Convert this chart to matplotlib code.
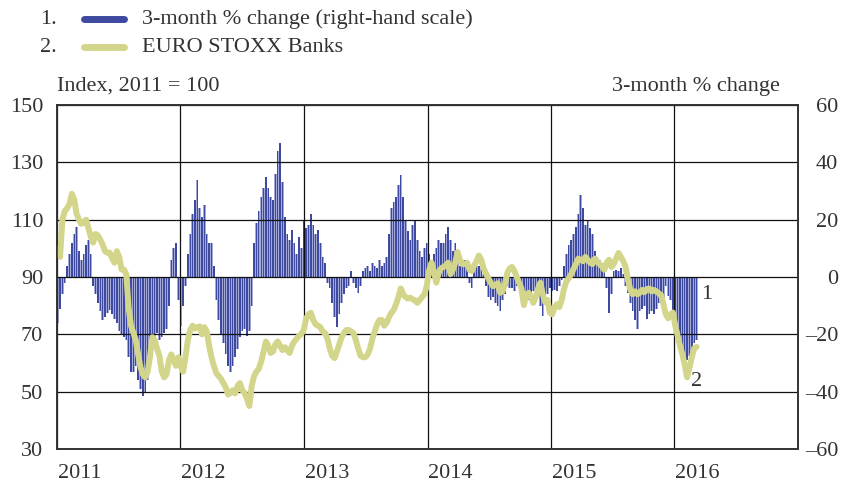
import numpy as np
import pandas as pd
import matplotlib
matplotlib.use('Agg')  # headless backend
import matplotlib.pyplot as plt
from matplotlib.lines import Line2D

plt.rcParams['font.family'] = ['Liberation Serif', 'DejaVu Serif']

# weekly readings, first week starting 3 Jan 2011
# EURO STOXX Banks, index 2011 = 100 (left-hand scale)
index_vals = [
    # 2011
    100, 97, 110, 113, 114, 115.5, 119, 117, 112, 110, 108.5, 109, 110, 107, 104, 102,
    105, 104.5, 103, 101.3, 99, 98.5, 98.5, 96.5, 95, 99, 97, 92.6, 92.6, 91, 79, 73,
    70.5, 68, 63, 58.5, 56, 55, 57, 62, 69, 68, 65, 62.5, 57, 55, 56, 61, 63, 61, 59, 62,
    # 2012
    59, 57, 62, 68, 71.5, 73, 72, 72.5, 72.8, 70, 72.5, 71, 66, 62, 59, 56.5, 55.5, 54.5,
    53, 51.5, 49, 49.5, 50.5, 49.4, 52, 53, 50.5, 49.5, 47.5, 45, 52, 55.5, 57, 58, 60.5,
    64, 67.5, 66, 63.5, 64, 66.5, 67.5, 66, 64.5, 65.5, 64.5, 63.5, 66, 67.5, 68.5, 69.5,
    70.2, 71.5,
    # 2013
    75.5, 77, 77.5, 75, 73.5, 73, 72.5, 71, 70.5, 68.5, 65, 62.5, 61.7, 64, 66.5, 69, 70.5,
    71.5, 71.5, 71, 70.5, 68, 65, 62.5, 62, 62, 63, 65, 68.5, 71, 73.5, 75, 75, 73, 74, 76,
    77.5, 78.5, 80.5, 83, 86, 84, 83, 82.5, 82.8, 82.2, 81.8, 81, 82, 83, 84, 87,
    # 2014
    92.4, 95, 92, 88, 91.5, 93, 93.5, 94, 95, 91, 92.5, 95, 98.7, 96, 94.5, 94.5, 95, 92.5,
    92, 94, 95.5, 97.5, 96, 93, 91.2, 89.5, 88, 86.8, 87.2, 87.8, 84.5, 85, 87.5, 91.4, 93,
    93.5, 92.2, 90, 88, 86, 80.2, 83.5, 84.5, 83, 81, 83, 86, 88, 84, 81.2, 82, 77.5,
    # 2015 - early 2016
    77, 79.5, 80.5, 79.5, 82, 86, 88.5, 89.6, 91, 92.8, 94.5, 96.4, 96, 95.5, 97, 96, 95,
    94.5, 96.4, 95.5, 94.5, 93.7, 92.5, 95, 96, 93.5, 94.5, 96.5, 98.4, 97, 95.5, 93.5, 89,
    85.5, 84, 85, 84, 84.5, 85.5, 84.7, 85.8, 86, 85, 85.5, 85, 84.3, 83.7, 80.5, 77, 75.6,
    77, 77.6, 73, 69.5, 66, 63, 59.3, 55, 58.5, 62, 65.2, 65.6,
]

# 3-month % change (right-hand scale)
change_vals = [
    -16, -11, -6, -2, 4, 8, 12, 15, 17.5, 9, 6, 8, 11, 13, 8,
    -3, -6, -9, -12, -15, -14, -12.5, -11.5, -13, -14.5, -16, -19, -20, -21,
    -22, -28, -33, -33, -31, -36, -39, -41.5, -40, -36, -30, -25, -21, -19.5, -22, -21,
    -19.5, -18, -10,
    6, 10, 12, -8, -17, -10, -3,
    8, 15, 22, 27, 34, 24, 21, 25, 15, 12, 12, 4,
    -8, -15, -20, -23, -27, -31, -33, -31, -28, -25, -21, -19, -18, -20.5, -19, -10,
    12, 19, 23, 28, 31, 35, 31, 28, 27, 36, 44, 46.6, 33, 21, 15, 13, 16.5, 12, 8, 14, 10, 20,
    17, 18, 22, 18, 15, 16.5, 12, 7, 5,
    -2, -4, -9, -14, -17.4, -13, -9, -6, -4, -3,
    2, -2, -4, -5.5, -3, 2, 3, 4, 2, 5, 4, 3, 6, 4, 5,
    7, 15, 24, 26, 28, 32, 35.6, 28, 20, 16, 13, 18, 20, 13, 9, 7, 10, 12,
    8, 6, 8, 10, 13, 12, 12, 15, 17.5, 13, 9, 12, 8, 4, 5, 6, 4,
    -2, -4, 3, 4, 4, 3, 1,
    -3, -7, -8, -7, -9, -10, -12, -8, -6, -3, -4, -4, -5, -3, -2, -3.5, -5, -6, -8, -6,
    -5, -5.5, -6.5, -10, -13.7, -9, -6, -4, -5, -4.5, -5, -3, -1,
    4, 8, 11, 13, 15, 17.6, 22, 28.6, 24, 18, 19.4, 17, 15, 9, 7, 6, 5, 4, -4, -12.5, -6,
    2, 2.5, 2, 3, 1,
    -3, -5.6, -9, -12, -15, -18, -12, -11, -10, -14.8, -13, -12, -13, -11, -9, -7, -8, -3,
    -6.7, -8, -11.4, -16, -23, -26, -27, -28.7, -29, -27.5, -25, -23, -22,
]

years = [2011, 2012, 2013, 2014, 2015, 2016]
left_ticks = [30, 50, 70, 90, 110, 130, 150]
right_ticks = [-60, -40, -20, 0, 20, 40, 60]

dates = pd.date_range('2011-01-03', periods=len(index_vals), freq='7D')

BLUE = '#3d4a9f'
BLUE_LIGHT = '#a3a9d8'
GREEN = '#d3d68a'
TEXT = '#333333'
FS = 16


def main():
    fig = plt.figure(figsize=(8.41, 4.87), dpi=100)
    ax = fig.add_axes([57 / 841, 1 - 449 / 487, 741 / 841, 344 / 487])
    ax2 = ax.twinx()

    # bars: light fill plus darker stripe, right-hand scale
    ax.bar(dates, change_vals, width=7, color=BLUE_LIGHT, linewidth=0, zorder=1)
    ax.bar(dates, change_vals, width=4, color=BLUE, linewidth=0, zorder=1.2)
    ax.set_ylim(-60, 60)
    ax.set_yticks(right_ticks)
    ax.set_yticklabels([str(v).replace('-', '\u2013') for v in right_ticks])
    ax.yaxis.tick_right()
    for lbl in ax.get_yticklabels():
        lbl.set_horizontalalignment('right')

    # index line, left-hand scale
    ax2.plot(dates, index_vals, color=GREEN, lw=4.3, solid_joinstyle='round',
             solid_capstyle='round')
    ax2.set_ylim(30, 150)
    ax2.set_yticks(left_ticks)
    ax2.yaxis.tick_left()

    ax.set_xlim(pd.Timestamp('2011-01-01'), pd.Timestamp('2017-01-01'))
    ax.set_xticks([pd.Timestamp(f'{y}-01-01') for y in years])
    ax.set_xticklabels([])
    ax.set_xticks([pd.Timestamp(f'{y}-03-10') for y in years], minor=True)
    ax.set_xticklabels([str(y) for y in years], minor=True)

    ax.set_axisbelow(False)
    ax.grid(True, which='major', color='#111111', lw=0.9)
    ax.tick_params(axis='x', which='both', length=0, pad=11, labelsize=FS, labelcolor=TEXT)
    ax.tick_params(axis='y', length=0, pad=29, labelsize=FS, labelcolor=TEXT)
    ax2.tick_params(axis='y', length=0, pad=10, labelsize=FS, labelcolor=TEXT)
    for a in (ax, ax2):
        for s in a.spines.values():
            s.set_color('#333333')
            s.set_linewidth(1.2)

    # axis titles
    fig.text(57 / 841, 1 - 86 / 487, 'Index, 2011 = 100', ha='left', va='center',
             fontsize=FS, color=TEXT)
    fig.text(780 / 841, 1 - 86 / 487, '3-month % change', ha='right', va='center',
             fontsize=FS, color=TEXT)

    # legend
    rows = [('1.', BLUE, '3-month % change (right-hand scale)', 19),
            ('2.', GREEN, 'EURO STOXX Banks', 47)]
    for num, col, label, ypx in rows:
        yf = 1 - ypx / 487
        fig.text(40 / 841, yf, num, ha='left', va='center', fontsize=FS, color=TEXT)
        fig.add_artist(Line2D([84 / 841, 124 / 841], [yf, yf], color=col, lw=5,
                              solid_capstyle='round', transform=fig.transFigure))
        fig.text(142 / 841, yf, label, ha='left', va='center', fontsize=FS, color=TEXT)

    # series markers at the end of the data
    ax2.text(pd.Timestamp('2016-04-07'), 84, '1', ha='center', va='center',
             fontsize=FS, color=TEXT)
    ax2.text(pd.Timestamp('2016-03-07'), 53.7, '2', ha='center', va='center',
             fontsize=FS, color=TEXT)

    fig.savefig('out.png', dpi=100)
    plt.close(fig)


if __name__ == '__main__':
    main()
